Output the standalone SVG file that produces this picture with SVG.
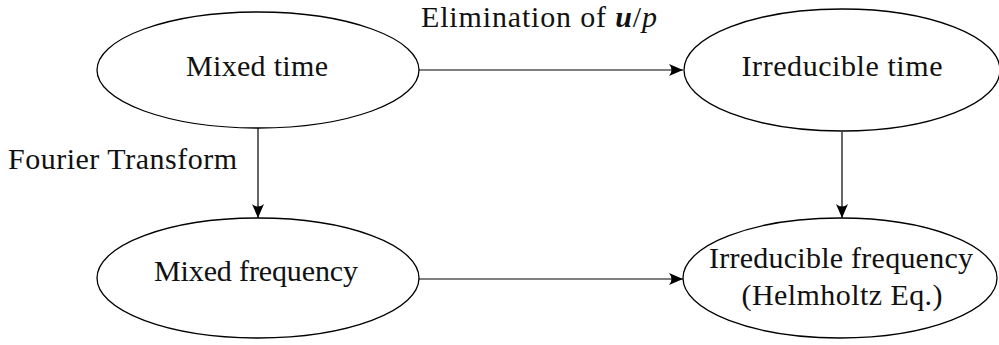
<svg xmlns="http://www.w3.org/2000/svg" width="999" height="345" viewBox="0 0 999 345">
<style>
.node ellipse{fill:#fff;stroke:#000;stroke-width:1.3}
text{font-family:"Liberation Serif","DejaVu Serif",serif;font-size:30px;fill:#111}
.lbl{text-anchor:middle}
.edge{stroke:#000;stroke-width:1.2;fill:none;marker-end:url(#ah)}
</style>
<defs>
<marker id="ah" markerUnits="userSpaceOnUse" viewBox="-15 -7 16 14" refX="0" refY="0" markerWidth="16" markerHeight="14" orient="auto">
<path d="M0,0 L-14,-6 Q-9,0 -14,6 Z" fill="#000"/>
</marker>
</defs>
<g id="connectors">
<line class="edge" x1="419" y1="70" x2="683" y2="70"/>
<line class="edge" x1="258" y1="128" x2="258" y2="218"/>
<line class="edge" x1="842" y1="132" x2="842" y2="218"/>
<line class="edge" x1="419" y1="279" x2="683" y2="279"/>
</g>
<g id="mixed-time" class="node">
<ellipse cx="258" cy="70" rx="161" ry="58"/>
<text class="lbl" x="257" y="76" textLength="142">Mixed time</text>
</g>
<g id="irreducible-time" class="node">
<ellipse cx="842" cy="70" rx="158" ry="61"/>
<text class="lbl" x="842" y="76" textLength="201">Irreducible time</text>
</g>
<g id="mixed-frequency" class="node">
<ellipse cx="258" cy="278" rx="161" ry="60"/>
<text class="lbl" x="256" y="281" textLength="204">Mixed frequency</text>
</g>
<g id="irreducible-frequency" class="node">
<ellipse cx="840" cy="278" rx="157" ry="60"/>
<text class="lbl" x="841" y="268" textLength="264">Irreducible frequency</text>
<text class="lbl" x="842" y="305" textLength="201">(Helmholtz Eq.)</text>
</g>
<g id="edge-labels">
<text x="421" y="27" textLength="236">Elimination of <tspan font-weight="bold" font-style="italic">u</tspan>/<tspan font-style="italic">p</tspan></text>
<text x="8" y="169" textLength="229">Fourier Transform</text>
</g>
</svg>
